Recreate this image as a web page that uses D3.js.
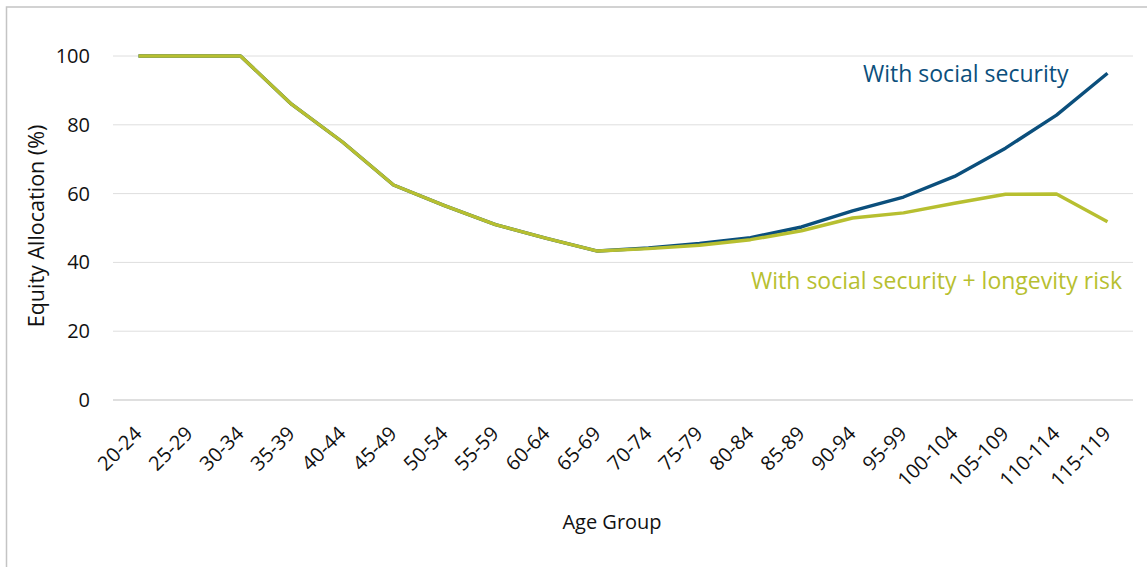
<!DOCTYPE html>
<html><head><meta charset="utf-8">
<script src="https://cdn.jsdelivr.net/npm/d3@7"></script>
<style>
html,body{margin:0;padding:0;background:#fff;}
svg{display:block;font-family:"Open Sans",sans-serif;}
</style>
</head><body>
<svg id="chart" width="1147" height="567"></svg>
<script>
const categories = ["20-24","25-29","30-34","35-39","40-44","45-49","50-54","55-59","60-64","65-69","70-74","75-79","80-84","85-89","90-94","95-99","100-104","105-109","110-114","115-119"];
const withSocialSecurity = [100,100,100,86,75,62.5,56.5,51,47,43.3,44.2,45.5,47.2,50.3,55,59,65,73.2,82.8,95];
const withLongevityRisk = [100,100,100,86,75,62.5,56.5,51,47,43.3,44,45,46.6,49.2,52.9,54.4,57.2,59.8,59.9,51.8];
const yTicks = [0,20,40,60,80,100];
const seriesNames = ["With social security","With social security + longevity risk"];
const colors = ["#0b4f7c","#b7bf30"];

const svg = d3.select("#chart");
// outer frame
svg.append("rect").attr("x",6.5).attr("y",7).attr("width",1200).attr("height",600)
  .attr("fill","none").attr("stroke","#c4c4c4").attr("stroke-width",1.5);

const margin = {left:113, right:1133, top:56, bottom:400};
const x = d3.scalePoint().domain(categories).range([margin.left, margin.right]).padding(0.5);
const y = d3.scaleLinear().domain([0,100]).range([margin.bottom, margin.top]);

// gridlines
svg.append("g").selectAll("line").data(yTicks).join("line")
  .attr("x1",margin.left).attr("x2",margin.right)
  .attr("y1",d=>y(d)).attr("y2",d=>y(d))
  .attr("stroke",d=>d===0?"#d4d4d4":"#dedede").attr("stroke-width",d=>d===0?1.5:1);

// y axis labels
const yAxis = svg.append("g").attr("transform",`translate(${margin.left},0)`)
  .call(d3.axisLeft(y).tickValues(yTicks).tickSize(0).tickPadding(23));
yAxis.select(".domain").remove();
yAxis.selectAll("text").attr("font-size",20).attr("font-family","Open Sans").attr("fill","#111");

// x axis labels
const xAxis = svg.append("g").attr("transform",`translate(0,${margin.bottom})`)
  .call(d3.axisBottom(x).tickSize(0));
xAxis.select(".domain").remove();
xAxis.selectAll("text")
  .attr("font-size",20).attr("font-family","Open Sans").attr("fill","#111")
  .attr("text-anchor","end").attr("dy",0).attr("y",0)
  .attr("transform","translate(4,35) rotate(-45)");

// axis titles
svg.append("text").attr("x",612).attr("y",529).attr("text-anchor","middle")
  .attr("font-size",20).attr("fill","#111").text("Age Group");
svg.append("text").attr("transform","translate(44,226) rotate(-90)").attr("text-anchor","middle")
  .attr("font-size",21.5).attr("fill","#111").text("Equity Allocation (%)");

// lines
const line = d3.line().x((d,i)=>x(categories[i])).y(d=>y(d));
[withSocialSecurity, withLongevityRisk].forEach((s,k)=>{
  svg.append("path").datum(s).attr("d",line).attr("fill","none")
    .attr("stroke",colors[k]).attr("stroke-width",3.4).attr("stroke-linejoin","round");
});

// series labels
svg.append("text").attr("x",863).attr("y",82).attr("font-size",23).attr("fill",colors[0]).text(seriesNames[0]);
svg.append("text").attr("x",1122).attr("y",289).attr("text-anchor","end").attr("font-size",23).attr("fill",colors[1]).text(seriesNames[1]);
</script>
</body></html>
